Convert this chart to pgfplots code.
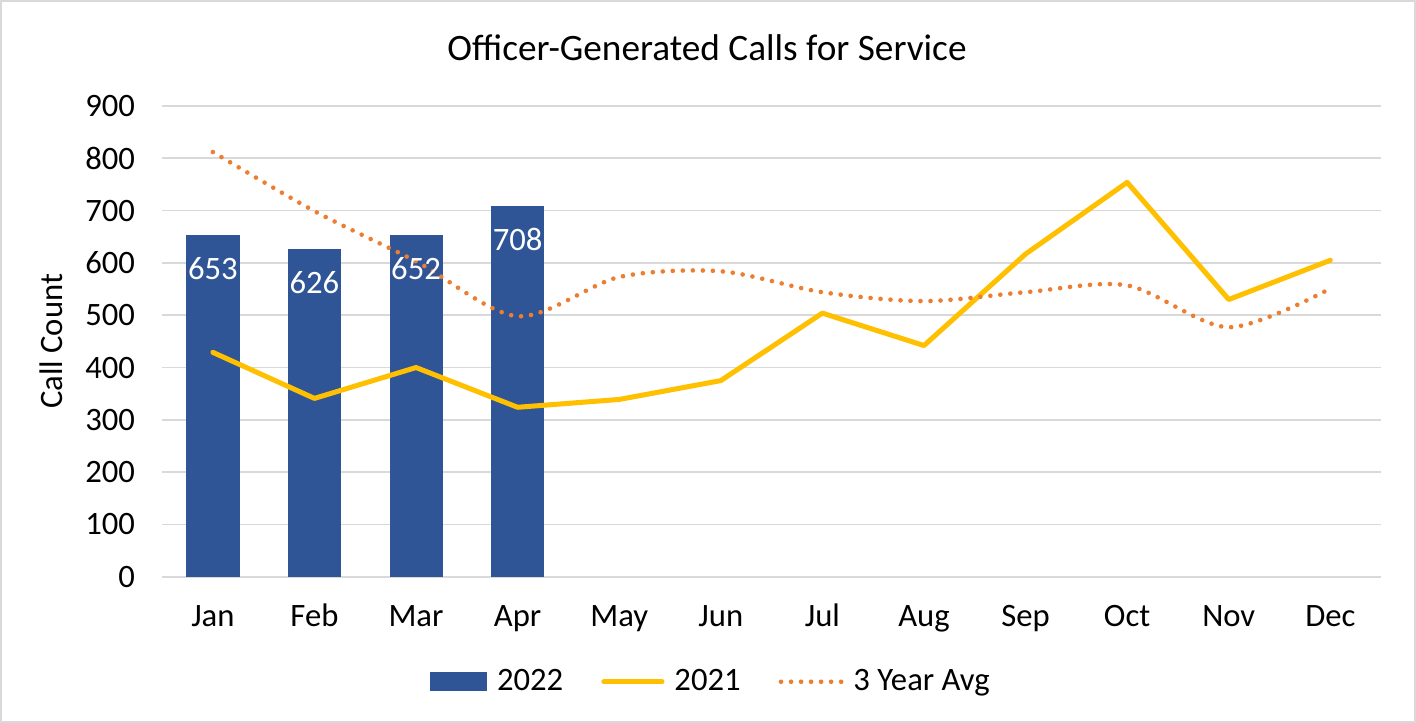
\documentclass[border=0pt]{standalone}
\usepackage{pgfplots}
\pgfplotsset{compat=1.18}
\usepackage{fontspec}
\setmainfont{Carlito}
\definecolor{barblue}{HTML}{2F5597}
\definecolor{lineyellow}{HTML}{FFC000}
\definecolor{avgorange}{HTML}{ED7D31}
\definecolor{gridgray}{HTML}{D9D9D9}
\begin{document}
\begin{tikzpicture}[x=1pt,y=1pt]
\draw[draw=gridgray, line width=0.8pt, fill=white] (1,1) rectangle (707,361);
\begin{axis}[
  at={(81.5pt,73.5pt)}, anchor=south west,
  scale only axis, width=608.5pt, height=235pt,
  xmin=-0.5, xmax=11.5, ymin=0, ymax=900,
  xtick={0,...,11},
  xticklabels={Jan,Feb,Mar,Apr,May,Jun,Jul,Aug,Sep,Oct,Nov,Dec},
  ytick={0,100,...,900},
  ymajorgrids, grid style={gridgray, line width=0.8pt},
  axis x line*=bottom, axis y line*=left,
  x axis line style={gridgray, line width=0.8pt, -},
  y axis line style={draw=none},
  major tick length=0pt,
  tick label style={font=\fontsize{16.3}{18}\selectfont, black},
  /pgf/number format/assume math mode=true,
  xticklabel style={anchor=base, yshift=-25pt},
  yticklabel style={xshift=-10pt},
  ylabel={Call Count}, ylabel style={font=\fontsize{16.3}{18}\selectfont, at={(axis description cs:-0.076,0.5)}},
  title={Officer-Generated Calls for Service},
  title style={font=\fontsize{18.6}{20}\selectfont, at={(axis description cs:0.447,1.055)}, anchor=south},
  legend columns=3,
  legend style={at={(axis description cs:0.451,-0.223)}, anchor=center, draw=none, fill=none,
    font=\fontsize{16.3}{18}\selectfont, column sep=3pt,
    /tikz/every even column/.append style={column sep=17pt}},
  legend cell align=left,
]
\addplot[ybar, bar width=26pt, fill=barblue, draw=barblue,
  nodes near coords, every node near coord/.append style={font=\fontsize{16.3}{18}\selectfont, white, anchor=north, yshift=-7.5pt},
  legend image code/.code={\fill[barblue] (0pt,-4.5pt) rectangle (28pt,4.5pt);}]
  coordinates {(0,653) (1,626) (2,652) (3,708)};
\addlegendentry{2022}
\addplot[lineyellow, line width=2.5pt, line cap=round, line join=round,
  legend image code/.code={\draw[lineyellow, line width=2.5pt, line cap=round] (0pt,0pt) -- (29pt,0pt);}]
  coordinates {(0,429) (1,341) (2,400) (3,324) (4,339) (5,375) (6,504) (7,442) (8,617) (9,754) (10,530) (11,605)};
\addlegendentry{2021}
\addplot[avgorange, line width=2.3pt, line cap=round, dash pattern=on 0pt off 5pt, smooth, tension=0.5,
  legend image code/.code={\draw[avgorange, line width=2.3pt, line cap=round, dash pattern=on 0pt off 5pt] (0pt,0pt) -- (30pt,0pt);}]
  coordinates {(0,812) (1,699) (2,603) (3,498) (4,573) (5,584) (6,544) (7,527) (8,544) (9,557) (10,477) (11,551)};
\addlegendentry{3 Year Avg}
\end{axis}
\end{tikzpicture}
\end{document}
